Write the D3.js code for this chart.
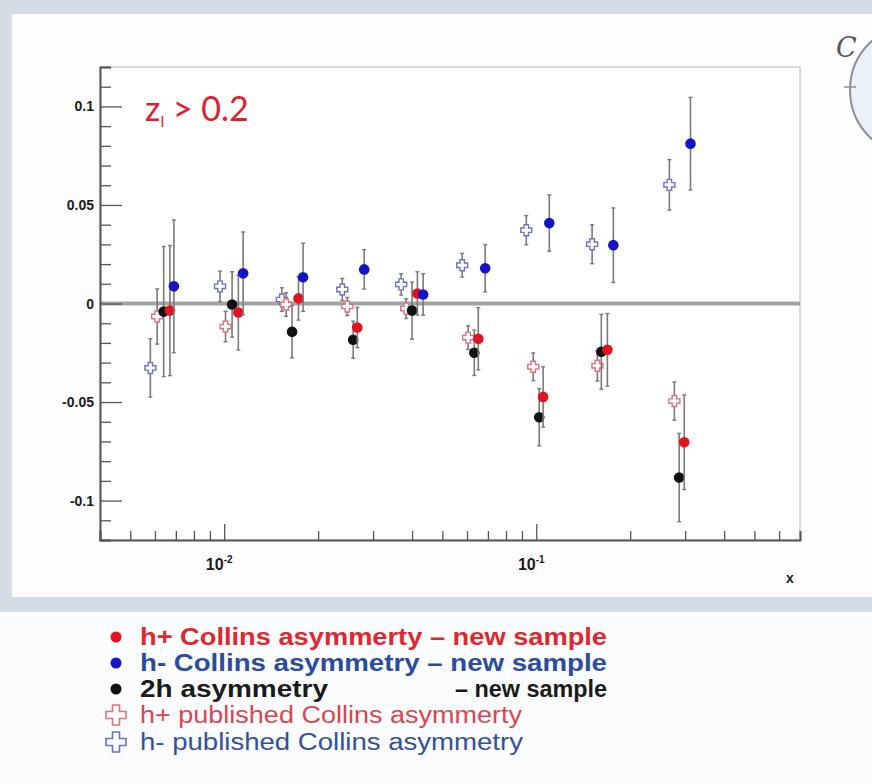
<!DOCTYPE html>
<html>
<head>
<meta charset="utf-8">
<script src="https://cdn.jsdelivr.net/npm/d3@7"></script>
<style>
  html, body { margin: 0; padding: 0; background: #fff; }
  svg { display: block; }
</style>
</head>
<body>
<svg id="chart" width="872" height="784"></svg>
<script>
// Collins asymmetries vs x, z > 0.2 — new sample and published results

// h+ Collins asymmetry, new sample
const hPlusNewX   = [0.0067, 0.0111, 0.0173, 0.0267, 0.0416, 0.0652, 0.1052, 0.169, 0.298];
const hPlusNewY   = [-0.0036, -0.0046, 0.0026, -0.0122, 0.0051, -0.0179, -0.0474, -0.0235, -0.0704];
const hPlusNewErr = [0.033, 0.019, 0.011, 0.0102, 0.011, 0.0158, 0.0153, 0.0184, 0.024];

// h- Collins asymmetry, new sample
const hMinusNewX   = [0.0069, 0.0115, 0.0179, 0.0281, 0.0434, 0.0686, 0.1101, 0.1766, 0.312];
const hMinusNewY   = [0.0087, 0.0153, 0.0133, 0.0173, 0.0046, 0.0179, 0.0408, 0.0296, 0.0811];
const hMinusNewErr = [0.0337, 0.021, 0.0173, 0.010, 0.0105, 0.012, 0.0143, 0.0189, 0.0235];

// 2h asymmetry, new sample
const twoHX   = [0.0064, 0.0106, 0.0165, 0.0259, 0.0400, 0.0633, 0.1022, 0.1616, 0.287];
const twoHY   = [-0.0041, -0.0005, -0.0143, -0.0184, -0.0036, -0.025, -0.0577, -0.0245, -0.0883];
const twoHErr = [0.033, 0.0166, 0.0133, 0.0094, 0.0145, 0.0115, 0.0145, 0.019, 0.0224];

// h+ published Collins asymmetry
const hPlusPubX   = [0.0061, 0.0101, 0.0158, 0.0248, 0.0383, 0.0605, 0.0978, 0.157, 0.277];
const hPlusPubY   = [-0.0066, -0.0117, -0.0005, -0.0015, -0.0026, -0.0173, -0.0321, -0.0316, -0.0495];
const hPlusPubErr = [0.014, 0.0077, 0.006, 0.0046, 0.005, 0.006, 0.007, 0.0077, 0.0097];

// h- published Collins asymmetry
const hMinusPubX   = [0.0058, 0.0097, 0.0153, 0.0239, 0.0369, 0.0579, 0.0929, 0.151, 0.267];
const hMinusPubY   = [-0.0327, 0.0087, 0.0020, 0.0071, 0.0097, 0.0194, 0.0372, 0.0301, 0.0602];
const hMinusPubErr = [0.0148, 0.0077, 0.006, 0.0056, 0.0054, 0.006, 0.0074, 0.0099, 0.0128];

// Axis tick labels
const yTickValues = [-0.1, -0.05, 0, 0.05, 0.1];
const yTickLabels = ["-0.1", "-0.05", "0", "0.05", "0.1"];
const xDecades    = [0.01, 0.1];
const xDecadeExps = ["-2", "-1"];

// Legend entries
const legendLabels = [
  "h+ Collins asymmerty \u2013 new sample",
  "h-  Collins asymmetry \u2013 new sample",
  "2h asymmetry",
  "h+ published Collins asymmerty",
  "h-  published Collins asymmetry"
];

const svg = d3.select("#chart");
const W = 872, H = 784;

// Slide background and panels
svg.append("rect").attr("width", W).attr("height", H).attr("fill", "#d4dde6");
svg.append("rect").attr("x", 12).attr("y", 14).attr("width", W - 12).attr("height", 583).attr("fill", "#fdfdfd");
svg.append("rect").attr("x", 0).attr("y", 612).attr("width", W).attr("height", H - 612).attr("fill", "#fbfcfe");

// Partial logo circle at top right
svg.append("circle").attr("cx", 916).attr("cy", 90).attr("r", 66)
  .attr("fill", "#e9f0f7").attr("stroke", "#8a8f96").attr("stroke-width", 2);
svg.append("line").attr("x1", 844).attr("x2", 856).attr("y1", 87).attr("y2", 87)
  .attr("stroke", "#8a8f96").attr("stroke-width", 1.5);
svg.append("text").attr("x", 836).attr("y", 57).text("C")
  .attr("font-family", "DejaVu Serif, serif").attr("font-style", "italic")
  .attr("font-size", 27).attr("fill", "#555");

// Plot frame geometry
const L = 100, R = 800, T = 67, B = 540;

const x = d3.scaleLog().domain([0.004, 0.7]).range([L, R]);
const y = d3.scaleLinear().domain([-0.12, 0.12]).range([B, T]);

const g = svg.append("g");

// Frame
g.append("rect").attr("x", L).attr("y", T).attr("width", R - L).attr("height", B - T)
  .attr("fill", "#fff").attr("stroke", "#c4c4c4").attr("stroke-width", 1.2);

// Zero line
g.append("line").attr("x1", L).attr("x2", R).attr("y1", y(0)).attr("y2", y(0))
  .attr("stroke", "#a3a3a3").attr("stroke-width", 4);

// Y axis, ticks pointing into the frame
const yMinor = d3.range(-12, 13).map(d => d / 100);
const yAxisG = g.append("g").attr("transform", `translate(${L},0)`);
yAxisG.call(d3.axisRight(y).tickValues(yMinor).tickSize(11).tickFormat(""));
yAxisG.selectAll(".tick line")
  .attr("x2", d => (Math.abs(Math.round(d * 100)) % 5 === 0) ? 22 : 11)
  .attr("stroke", "#555").attr("stroke-width", 1.3);
yAxisG.select(".domain").attr("stroke", "#555").attr("stroke-width", 2);

g.selectAll(".ylab").data(yTickValues).join("text")
  .attr("x", L - 6).attr("y", d => y(d)).attr("dy", "0.36em")
  .attr("text-anchor", "end")
  .attr("font-family", "Liberation Sans, Arial, sans-serif").attr("font-weight", "bold")
  .attr("font-size", 14).attr("fill", "#1a1a1a")
  .text((d, i) => yTickLabels[i]);

// X axis (log), ticks pointing up into the frame
const xTicks = [];
for (const dec of [0.001, 0.01, 0.1]) {
  for (let k = 1; k <= 9; k++) {
    const v = dec * k;
    if (v >= 0.004 && v <= 0.7) xTicks.push(v);
  }
}
const xAxisG = g.append("g").attr("transform", `translate(0,${B})`);
xAxisG.call(d3.axisTop(x).tickValues(xTicks).tickSize(9).tickFormat(""));
xAxisG.selectAll(".tick line")
  .attr("y2", d => xDecades.some(v => Math.abs(v - d) < 1e-9) ? -16 : -9)
  .attr("stroke", "#555").attr("stroke-width", 1.3);
xAxisG.select(".domain").attr("stroke", "#555").attr("stroke-width", 2);

const xl = g.selectAll(".xlab").data(xDecades).join("text")
  .attr("x", d => x(d) - 5).attr("y", 570)
  .attr("text-anchor", "middle")
  .attr("font-family", "Liberation Sans, Arial, sans-serif").attr("font-weight", "bold")
  .attr("font-size", 16).attr("fill", "#1a1a1a");
xl.append("tspan").text("10");
xl.append("tspan").attr("dy", -7).attr("font-size", 10).text((d, i) => xDecadeExps[i]);

g.append("text").attr("x", 790).attr("y", 583).attr("text-anchor", "middle")
  .attr("font-family", "Liberation Sans, Arial, sans-serif").attr("font-weight", "bold")
  .attr("font-size", 14).attr("fill", "#1a1a1a").text("x");

// Cut label
const cut = g.append("text").attr("x", 145).attr("y", 121)
  .attr("font-family", "Lato, Open Sans, sans-serif").attr("font-size", 34)
  .attr("fill", "#e0202c");
cut.append("tspan").text("z");
cut.append("tspan").attr("dy", 6).attr("font-size", 16).text("l");
cut.append("tspan").attr("dy", -6).text(" > 0.2");

// Series definitions
const crossPath = (s, a) =>
  `M${-a},${-s}H${a}V${-a}H${s}V${a}H${a}V${s}H${-a}V${a}H${-s}V${-a}H${-a}Z`;

const series = [
  { xs: hMinusPubX, ys: hMinusPubY, es: hMinusPubErr, type: "open", color: "#6f6fd0" },
  { xs: hPlusPubX,  ys: hPlusPubY,  es: hPlusPubErr,  type: "open", color: "#e0707c" },
  { xs: twoHX,      ys: twoHY,      es: twoHErr,      type: "full", color: "#111111" },
  { xs: hPlusNewX,  ys: hPlusNewY,  es: hPlusNewErr,  type: "full", color: "#e3121f" },
  { xs: hMinusNewX, ys: hMinusNewY, es: hMinusNewErr, type: "full", color: "#1414c8" }
];

series.forEach((s, si) => {
  const pts = s.xs.map((xv, i) => ({ x: xv, y: s.ys[i], e: s.es[i] }));
  const sg = g.append("g").attr("class", "series-" + si);
  // error bars
  sg.selectAll("line.err").data(pts).join("line").attr("class", "err")
    .attr("x1", d => x(d.x)).attr("x2", d => x(d.x))
    .attr("y1", d => y(d.y + d.e)).attr("y2", d => y(d.y - d.e))
    .attr("stroke", "#7a7a7a").attr("stroke-width", 1.6);
  sg.selectAll("line.capT").data(pts).join("line").attr("class", "capT")
    .attr("x1", d => x(d.x) - 2).attr("x2", d => x(d.x) + 2)
    .attr("y1", d => y(d.y + d.e)).attr("y2", d => y(d.y + d.e))
    .attr("stroke", "#7a7a7a").attr("stroke-width", 1.4);
  sg.selectAll("line.capB").data(pts).join("line").attr("class", "capB")
    .attr("x1", d => x(d.x) - 2).attr("x2", d => x(d.x) + 2)
    .attr("y1", d => y(d.y - d.e)).attr("y2", d => y(d.y - d.e))
    .attr("stroke", "#7a7a7a").attr("stroke-width", 1.4);
  if (s.type === "full") {
    sg.selectAll("circle").data(pts).join("circle")
      .attr("cx", d => x(d.x)).attr("cy", d => y(d.y)).attr("r", 5.3)
      .attr("fill", s.color);
  } else {
    sg.selectAll("path").data(pts).join("path")
      .attr("transform", d => `translate(${x(d.x)},${y(d.y)})`)
      .attr("d", crossPath(5.5, 2.2))
      .attr("fill", "#fff").attr("stroke", s.color).attr("stroke-width", 1.4);
  }
});

// Legend
const legendColors = ["#e3262d", "#2a4c9e", "#1a1a1a", "#d94650", "#33509c"];
const legendMarkers = ["#e3121f", "#1414c8", "#111111", "#e0707c", "#6f6fd0"];
const legendY = [637, 663, 689, 715, 742];
const legendWidth = [467, 467, 188, 382, 383];
const lg = svg.append("g");
legendLabels.forEach((lab, i) => {
  const cy = legendY[i];
  if (i < 3) {
    lg.append("circle").attr("cx", 116).attr("cy", cy).attr("r", 5.5).attr("fill", legendMarkers[i]);
  } else {
    lg.append("path").attr("transform", `translate(116,${cy})`)
      .attr("d", crossPath(10, 3.5))
      .attr("fill", "none").attr("stroke", legendMarkers[i]).attr("stroke-width", 1.6);
  }
  lg.append("text").attr("x", 140).attr("y", cy).attr("dy", "0.36em")
    .attr("font-family", "Liberation Sans, Arial, sans-serif")
    .attr("font-weight", i < 3 ? "bold" : "normal")
    .attr("font-size", 23).attr("fill", legendColors[i])
    .attr("textLength", legendWidth[i]).attr("lengthAdjust", "spacingAndGlyphs")
    .text(lab);
});
lg.append("text").attr("x", 607).attr("y", legendY[2]).attr("dy", "0.36em")
  .attr("text-anchor", "end")
  .attr("font-family", "Liberation Sans, Arial, sans-serif").attr("font-weight", "bold")
  .attr("font-size", 23).attr("fill", "#1a1a1a")
  .attr("textLength", 152).attr("lengthAdjust", "spacingAndGlyphs")
  .text("\u2013 new sample");
</script>
</body>
</html>
